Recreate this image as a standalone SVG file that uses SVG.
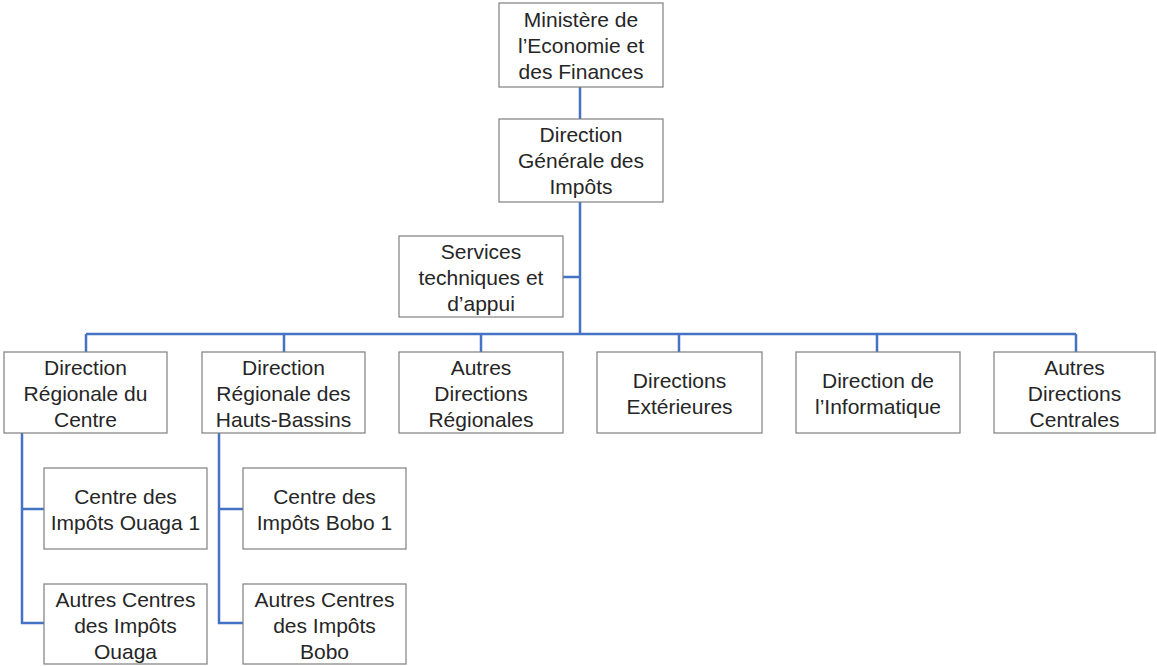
<svg xmlns="http://www.w3.org/2000/svg" width="1157" height="666" viewBox="0 0 1157 666">
<style>
.box{fill:#fff;stroke:#7f7f7f;stroke-width:1.2}
.t{font-family:"Liberation Sans",Arial,sans-serif;font-size:21px;fill:#262626;text-anchor:middle}
.c{fill:none;stroke:#4472c4;stroke-width:2.5}
</style>
<rect width="1157" height="666" fill="#fff"/>
<g id="connectors">
<path class="c" d="M580 87V119M580 202V334M563 277H580M86 334H1076M86 334V352M284 334V352M481 334V352M679 334V352M877 334V352M1076 334V352"/>
<path class="c" d="M22 433V623H44M22 509H44"/>
<path class="c" d="M219 433V623H243M219 509H243"/>
</g>
<g id="n-ministere"><rect class="box" x="499" y="3" width="164" height="84"/><text class="t" x="581" y="26.5">Ministère de</text><text class="t" x="581" y="52.5">l’Economie et</text><text class="t" x="581" y="78.5">des Finances</text></g>
<g id="n-dgi"><rect class="box" x="499" y="119" width="164" height="83"/><text class="t" x="581" y="141.5">Direction</text><text class="t" x="581" y="167.5">Générale des</text><text class="t" x="581" y="193.5">Impôts</text></g>
<g id="n-services"><rect class="box" x="399" y="236" width="164" height="81"/><text class="t" x="481" y="258.5">Services</text><text class="t" x="481" y="284.5">techniques et</text><text class="t" x="481" y="310.5">d’appui</text></g>
<g id="n-drc"><rect class="box" x="4" y="352" width="163" height="81"/><text class="t" x="85.5" y="374.5">Direction</text><text class="t" x="85.5" y="400.5">Régionale du</text><text class="t" x="85.5" y="426.5">Centre</text></g>
<g id="n-drhb"><rect class="box" x="202" y="352" width="163" height="81"/><text class="t" x="283.5" y="374.5">Direction</text><text class="t" x="283.5" y="400.5">Régionale des</text><text class="t" x="283.5" y="426.5">Hauts-Bassins</text></g>
<g id="n-adr"><rect class="box" x="399" y="352" width="164" height="81"/><text class="t" x="481" y="374.5">Autres</text><text class="t" x="481" y="400.5">Directions</text><text class="t" x="481" y="426.5">Régionales</text></g>
<g id="n-de"><rect class="box" x="597" y="352" width="165" height="81"/><text class="t" x="679.5" y="387.5">Directions</text><text class="t" x="679.5" y="413.5">Extérieures</text></g>
<g id="n-di"><rect class="box" x="796" y="352" width="164" height="81"/><text class="t" x="878" y="387.5">Direction de</text><text class="t" x="878" y="413.5">l’Informatique</text></g>
<g id="n-adc"><rect class="box" x="994" y="352" width="161" height="81"/><text class="t" x="1074.5" y="374.5">Autres</text><text class="t" x="1074.5" y="400.5">Directions</text><text class="t" x="1074.5" y="426.5">Centrales</text></g>
<g id="n-ciou1"><rect class="box" x="44" y="468" width="163" height="81"/><text class="t" x="125.5" y="503.5">Centre des</text><text class="t" x="125.5" y="529.5">Impôts Ouaga 1</text></g>
<g id="n-acou"><rect class="box" x="44" y="584" width="163" height="80"/><text class="t" x="125.5" y="606.5">Autres Centres</text><text class="t" x="125.5" y="632.5">des Impôts</text><text class="t" x="125.5" y="658.5">Ouaga</text></g>
<g id="n-cibo1"><rect class="box" x="243" y="468" width="163" height="81"/><text class="t" x="324.5" y="503.5">Centre des</text><text class="t" x="324.5" y="529.5">Impôts Bobo 1</text></g>
<g id="n-acbo"><rect class="box" x="243" y="584" width="163" height="80"/><text class="t" x="324.5" y="606.5">Autres Centres</text><text class="t" x="324.5" y="632.5">des Impôts</text><text class="t" x="324.5" y="658.5">Bobo</text></g>
</svg>
